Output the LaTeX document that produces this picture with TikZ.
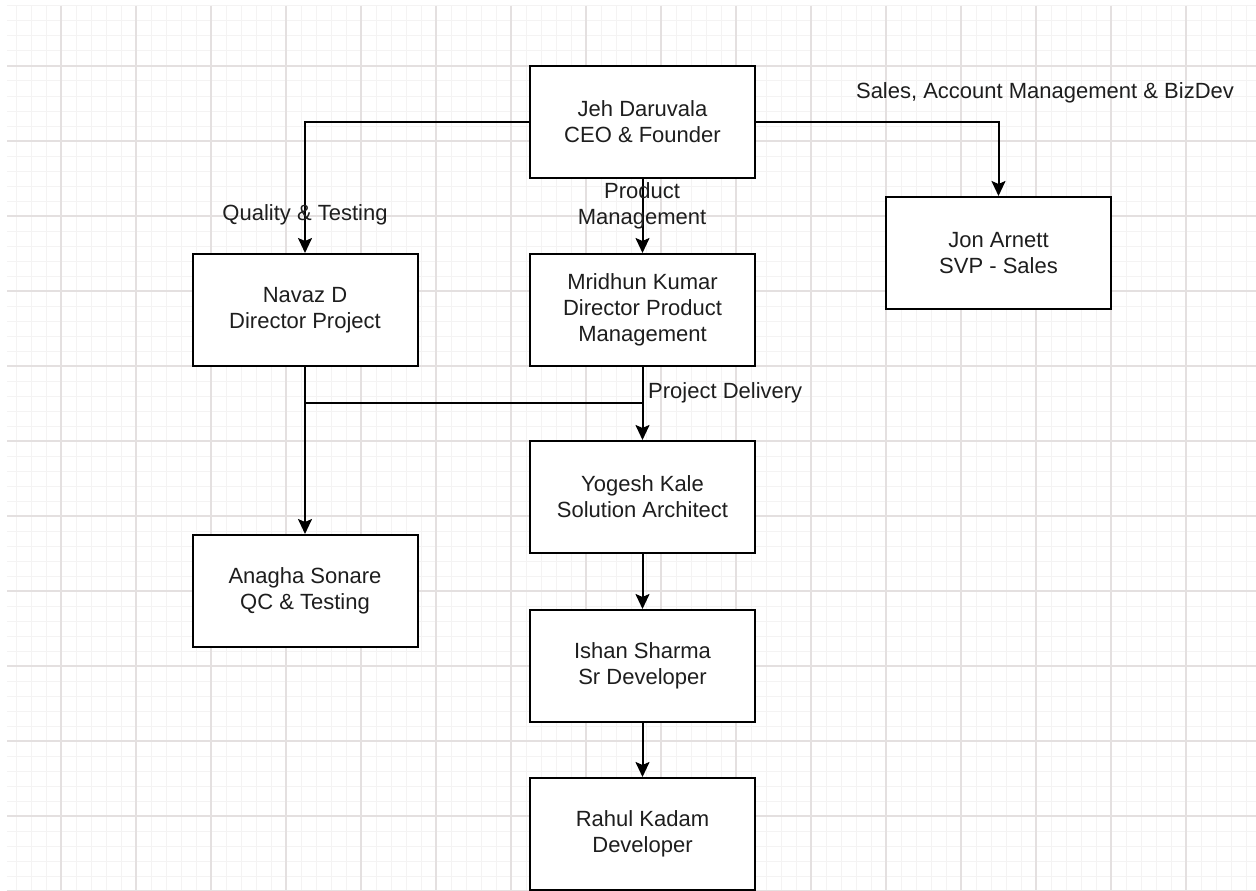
\documentclass[tikz,border=0pt]{standalone}
\usepackage{fontspec}
\setmainfont{Liberation Sans}
\usetikzlibrary{arrows.meta}
\definecolor{gridmajor}{RGB}{228,224,224}
\definecolor{gridminor}{RGB}{244,243,243}
\definecolor{txt}{RGB}{30,30,30}
\tikzset{
  person/.style={draw=black, fill=white, line width=2pt, minimum width=225pt, minimum height=112pt,
    inner sep=0pt, align=center, text=txt, font=\fontsize{22}{26}\selectfont},
  lbl/.style={inner sep=0pt, align=center, text=txt, font=\fontsize{22}{26}\selectfont},
  conn/.style={draw=black, line width=2pt},
  arr/.style={conn, -{Stealth[length=15pt,width=14pt,inset=3pt]}},
  minorline/.style={draw=gridminor, line width=1pt},
  majorline/.style={draw=gridmajor, line width=1.3pt}
}
\begin{document}
\begin{tikzpicture}[x=1pt,y=-1pt]
\useasboundingbox (0,0) rectangle (1256,891);
\fill[white] (0,0) rectangle (1256,891);
% grid
\foreach \x in {16,31,...,1256} \draw[minorline] (\x,6) -- (\x,891);
\foreach \y in {6,21,...,891} \draw[minorline] (7,\y) -- (1256,\y);
\foreach \x in {61,136,...,1256} \draw[majorline] (\x,6) -- (\x,891);
\foreach \y in {66,141,...,891} \draw[majorline] (7,\y) -- (1256,\y);

% nodes
\node[person] (ceo) at (642.5,122) {Jeh Daruvala\\CEO \& Founder};
\node[person] (navaz) at (305,310) {Navaz D\\Director Project};
\node[person] (mrid) at (642.5,310) {Mridhun Kumar\\Director Product\\Management};
\node[person] (jon) at (998.5,253) {Jon Arnett\\SVP - Sales};
\node[person] (yog) at (642.5,497) {Yogesh Kale\\Solution Architect};
\node[person] (anag) at (305,591) {Anagha Sonare\\QC \& Testing};
\node[person] (ishan) at (642.5,666) {Ishan Sharma\\Sr Developer};
\node[person] (rahul) at (642.5,834) {Rahul Kadam\\Developer};

% connectors
\draw[arr] (ceo.west) -| (navaz.north);
\draw[arr] (ceo.east) -| (jon.north);
\draw[arr] (ceo.south) -- (mrid.north);
\draw[arr] (mrid.south) -- (yog.north);
\draw[arr] (navaz.south) -- (anag.north);
\coordinate (join) at (navaz.south |- 0,403);
\coordinate (joinr) at (mrid.south |- 0,403);
\draw[conn] (join) -- (joinr);
\draw[arr] (yog.south) -- (ishan.north);
\draw[arr] (ishan.south) -- (rahul.north);

% labels
\node[lbl] (lq) at (305,215) {Quality \& Testing};
\node[lbl] (lp) at (642,206) {Product\\Management};
\node[lbl] (ls) at (1045,93) {Sales, Account Management \& BizDev};
\node[lbl, anchor=west] (ld) at (648,393) {Project Delivery};
\end{tikzpicture}
\end{document}
